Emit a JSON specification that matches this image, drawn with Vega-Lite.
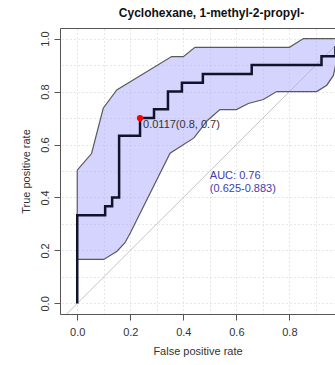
{
  "$schema": "https://vega.github.io/schema/vega-lite/v6.json",
  "autosize": {"type": "none"},
  "padding": {"left": 60, "top": 28, "right": 0, "bottom": 51},
  "width": 275,
  "height": 286,
  "background": "white",
  "config": {
    "view": {"stroke": null},
    "font": "Liberation Sans",
    "axis": {"labelFont": "Liberation Sans", "titleFont": "Liberation Sans", "labelFontSize": 11, "titleFontSize": 11, "labelColor": "#333", "titleColor": "#333", "titleFontWeight": "normal", "domainColor": "#555", "tickColor": "#555", "tickSize": 6}
  },
  "title": {"text": "Cyclohexane, 1-methyl-2-propyl-", "font": "Liberation Sans", "fontSize": 12, "fontWeight": "bold", "color": "#111", "anchor": "middle", "dx": 14, "offset": 8},
  "datasets": {
    "diag": [{"fpr": -0.1, "tpr": -0.1}, {"fpr": 1.1, "tpr": 1.1}],
    "band": [
      {"i": 1, "fpr": 0, "tpr": 0.503},
      {"i": 2, "fpr": 0.054, "tpr": 0.566},
      {"i": 3, "fpr": 0.098, "tpr": 0.737},
      {"i": 4, "fpr": 0.149, "tpr": 0.806},
      {"i": 5, "fpr": 0.356, "tpr": 0.932},
      {"i": 6, "fpr": 0.4, "tpr": 0.932},
      {"i": 7, "fpr": 0.444, "tpr": 0.967},
      {"i": 8, "fpr": 0.8, "tpr": 0.967},
      {"i": 9, "fpr": 0.853, "tpr": 1.0},
      {"i": 10, "fpr": 1.0, "tpr": 1.0},
      {"i": 11, "fpr": 0.985, "tpr": 0.95},
      {"i": 12, "fpr": 0.966, "tpr": 0.861},
      {"i": 13, "fpr": 0.941, "tpr": 0.824},
      {"i": 14, "fpr": 0.903, "tpr": 0.8},
      {"i": 15, "fpr": 0.752, "tpr": 0.8},
      {"i": 16, "fpr": 0.702, "tpr": 0.77},
      {"i": 17, "fpr": 0.645, "tpr": 0.755},
      {"i": 18, "fpr": 0.6, "tpr": 0.732},
      {"i": 19, "fpr": 0.538, "tpr": 0.732},
      {"i": 20, "fpr": 0.49, "tpr": 0.69},
      {"i": 21, "fpr": 0.44, "tpr": 0.625},
      {"i": 22, "fpr": 0.35, "tpr": 0.567},
      {"i": 23, "fpr": 0.2, "tpr": 0.266},
      {"i": 24, "fpr": 0.18, "tpr": 0.229},
      {"i": 25, "fpr": 0.15, "tpr": 0.197},
      {"i": 26, "fpr": 0.1, "tpr": 0.166},
      {"i": 27, "fpr": 0, "tpr": 0.166},
      {"i": 28, "fpr": 0, "tpr": 0.503}
    ],
    "roc": [
      {"i": 1, "fpr": 0, "tpr": 0},
      {"i": 2, "fpr": 0, "tpr": 0.3333},
      {"i": 3, "fpr": 0.1053, "tpr": 0.3333},
      {"i": 4, "fpr": 0.1053, "tpr": 0.3667},
      {"i": 5, "fpr": 0.1316, "tpr": 0.3667},
      {"i": 6, "fpr": 0.1316, "tpr": 0.4},
      {"i": 7, "fpr": 0.1579, "tpr": 0.4},
      {"i": 8, "fpr": 0.1579, "tpr": 0.6333},
      {"i": 9, "fpr": 0.2368, "tpr": 0.6333},
      {"i": 10, "fpr": 0.2368, "tpr": 0.7},
      {"i": 11, "fpr": 0.2895, "tpr": 0.7},
      {"i": 12, "fpr": 0.2895, "tpr": 0.7333},
      {"i": 13, "fpr": 0.3421, "tpr": 0.7333},
      {"i": 14, "fpr": 0.3421, "tpr": 0.8},
      {"i": 15, "fpr": 0.3947, "tpr": 0.8},
      {"i": 16, "fpr": 0.3947, "tpr": 0.8333},
      {"i": 17, "fpr": 0.4737, "tpr": 0.8333},
      {"i": 18, "fpr": 0.4737, "tpr": 0.8667},
      {"i": 19, "fpr": 0.6579, "tpr": 0.8667},
      {"i": 20, "fpr": 0.6579, "tpr": 0.9},
      {"i": 21, "fpr": 0.9211, "tpr": 0.9},
      {"i": 22, "fpr": 0.9211, "tpr": 0.9333},
      {"i": 23, "fpr": 0.9737, "tpr": 0.9333},
      {"i": 24, "fpr": 0.9737, "tpr": 0.9667},
      {"i": 25, "fpr": 1, "tpr": 0.9667},
      {"i": 26, "fpr": 1, "tpr": 1}
    ],
    "best": [{"fpr": 0.2368, "tpr": 0.7, "label": "0.0117(0.8, 0.7)"}],
    "auc": [{"fpr": 0.5, "tpr": 0.5, "label": "AUC: 0.76\n(0.625-0.883)"}]
  },
  "layer": [
    {
      "data": {"name": "diag"},
      "mark": {"type": "line", "color": "#c4c4c4", "strokeWidth": 1, "clip": true},
      "encoding": {
        "x": {"field": "fpr", "type": "quantitative", "scale": {"domain": [-0.065, 0.972], "nice": false, "zero": false},
          "axis": {"orient": "top", "values": [0, 0.1, 0.2, 0.3, 0.4, 0.5, 0.6, 0.7, 0.8, 0.9, 1.0], "grid": true, "gridDash": [1, 3], "gridColor": "#cfcfcf", "gridWidth": 1, "labels": false, "ticks": false, "domain": true, "title": null}},
        "y": {"field": "tpr", "type": "quantitative", "scale": {"domain": [-0.04, 1.04], "nice": false, "zero": false},
          "axis": {"orient": "right", "values": [0, 0.1, 0.2, 0.3, 0.4, 0.5, 0.6, 0.7, 0.8, 0.9, 1.0], "grid": true, "gridDash": [1, 3], "gridColor": "#cfcfcf", "gridWidth": 1, "labels": false, "ticks": false, "domain": false, "title": null}}
      }
    },
    {
      "data": {"name": "band"},
      "mark": {"type": "line", "fill": "#aaaaff", "fillOpacity": 0.5, "stroke": "#5a5a5a", "strokeWidth": 1.2, "clip": true},
      "encoding": {
        "x": {"field": "fpr", "type": "quantitative", "scale": {"domain": [-0.065, 0.972], "nice": false, "zero": false},
          "axis": {"orient": "bottom", "values": [0, 0.2, 0.4, 0.6, 0.8, 1.0], "format": ".1f", "grid": false, "domain": true, "labelPadding": 6, "title": "False positive rate", "titlePadding": 8}},
        "y": {"field": "tpr", "type": "quantitative", "scale": {"domain": [-0.04, 1.04], "nice": false, "zero": false},
          "axis": {"orient": "left", "values": [0, 0.2, 0.4, 0.6, 0.8, 1.0], "format": ".1f", "grid": false, "domain": true, "labelAngle": 270, "labelPadding": 4, "title": "True positive rate", "titlePadding": 8}},
        "order": {"field": "i", "type": "quantitative"}
      }
    },
    {
      "data": {"name": "roc"},
      "mark": {"type": "line", "color": "#12122a", "strokeWidth": 2.5, "clip": true, "strokeJoin": "miter", "strokeCap": "butt"},
      "encoding": {
        "x": {"field": "fpr", "type": "quantitative", "axis": null},
        "y": {"field": "tpr", "type": "quantitative", "axis": null},
        "order": {"field": "i", "type": "quantitative"}
      }
    },
    {
      "data": {"name": "best"},
      "mark": {"type": "point", "filled": true, "color": "#ff0000", "opacity": 1, "size": 40},
      "encoding": {
        "x": {"field": "fpr", "type": "quantitative", "axis": null},
        "y": {"field": "tpr", "type": "quantitative", "axis": null}
      }
    },
    {
      "data": {"name": "best"},
      "mark": {"type": "text", "align": "left", "baseline": "middle", "dx": 3, "dy": 7, "font": "Liberation Sans", "fontSize": 11, "color": "#333"},
      "encoding": {
        "x": {"field": "fpr", "type": "quantitative", "axis": null},
        "y": {"field": "tpr", "type": "quantitative", "axis": null},
        "text": {"field": "label"}
      }
    },
    {
      "data": {"name": "auc"},
      "mark": {"type": "text", "align": "left", "baseline": "top", "dy": -1, "lineBreak": "\n", "lineHeight": 12.5, "font": "Liberation Sans", "fontSize": 11, "color": "#3d3dab"},
      "encoding": {
        "x": {"field": "fpr", "type": "quantitative", "axis": null},
        "y": {"field": "tpr", "type": "quantitative", "axis": null},
        "text": {"field": "label"}
      }
    }
  ],
  "resolve": {"axis": {"x": "independent", "y": "independent"}}
}
